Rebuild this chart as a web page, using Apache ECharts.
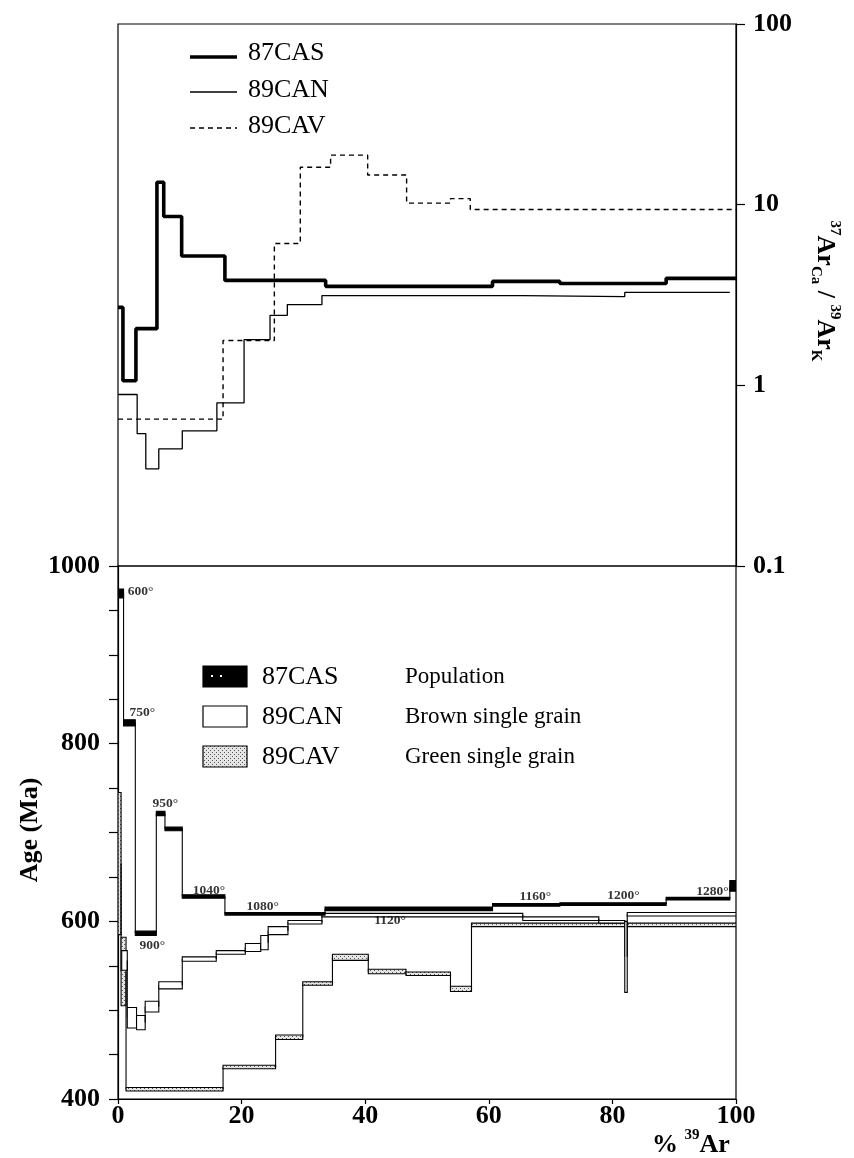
<!DOCTYPE html>
<html><head><meta charset="utf-8">
<script src="https://cdn.jsdelivr.net/npm/echarts@6/dist/echarts.min.js"></script>
<style>html,body{margin:0;padding:0;background:#fff}#c{width:854px;height:1158px}</style>
</head><body><div id="c"></div>
<script>
// ---------- Top panel: 37ArCa/39ArK step spectra (edges in % 39Ar) ----------
const casRatioEdges = [0, 0.8, 2.9, 6.3, 7.4, 10.3, 17.3, 33.6, 60.6, 71.5, 88.7, 100];
const casRatio      = [2.70, 1.06, 2.06, 13.3, 8.6, 5.2, 3.81, 3.53, 3.76, 3.66, 3.91];
const canRatioEdges = [0, 3.1, 4.5, 6.6, 10.4, 16.0, 20.4, 24.6, 27.4, 33.0, 65.5, 82.0, 99.0];
const canRatio      = [0.89, 0.54, 0.345, 0.445, 0.56, 0.80, 1.79, 2.44, 2.80, 3.14, 3.10, 3.27];
const cavRatioEdges = [0, 17.0, 25.3, 29.5, 34.4, 40.4, 46.7, 53.8, 57.0, 100];
const cavRatio      = [0.65, 1.77, 6.1, 16.1, 18.8, 14.6, 10.2, 10.8, 9.4];
const ratioTicks = ['0.1', '1', '10', '100'];

// ---------- Bottom panel: age spectra boxes (edges in % 39Ar, age range Ma) ----------
const casAgeEdges = [0, 0.9, 2.8, 6.2, 7.6, 10.4, 17.3, 33.5, 60.6, 71.5, 88.7, 99, 100];
const casAgeLow   = [964, 820, 584, 719, 702, 626, 607, 612, 617, 618, 624, 634];
const casAgeHigh  = [974, 827, 589, 724, 706, 630, 610, 616, 620, 621, 627, 646];
const canAgeEdges = [0.6, 1.5, 3.0, 4.4, 6.6, 10.4, 15.9, 20.6, 23.1, 24.3, 27.5, 33.0, 65.5, 77.8, 82.0, 82.4, 100];
const canAgeLow   = [545, 480, 478, 498, 524, 555, 563, 566, 568, 585, 597, 605, 601, 598, 520, 606];
const canAgeHigh  = [567, 503, 494, 510, 532, 560, 567, 575, 584, 594, 601, 609, 605, 601, 600, 610];
const cavAgeEdges = [0, 0.5, 1.3, 17.0, 25.5, 29.9, 34.7, 40.5, 46.6, 53.8, 57.2, 100];
const cavAgeLow   = [585, 505, 409, 434, 467, 528, 556, 541, 539, 521, 594];
const cavAgeHigh  = [745, 582, 413, 438, 472, 532, 563, 546, 543, 527, 598];

// step temperature labels (87CAS)
const tempLabels = ['600°', '750°', '900°', '950°', '1040°', '1080°', '1120°', '1160°', '1200°', '1280°'];
const tempX      = [1.5, 1.8, 3.4, 5.5, 12.0, 20.7, 41.4, 64.9, 79.1, 93.5];
const tempAge    = [971, 835, 573, 733, 635, 617, 601, 628, 629, 634];

const xTicks = [0, 20, 40, 60, 80, 100];
const ageTicks = [400, 600, 800, 1000];

const serif = '"Liberation Serif","Times New Roman",serif';

function stepPoints(edges, vals) {
  const pts = [];
  vals.forEach((v, i) => { pts.push([edges[i], v]); pts.push([edges[i + 1], v]); });
  return pts;
}
function boxData(edges, lo, hi) {
  return lo.map((l, i) => [edges[i], edges[i + 1], l, hi[i],
    i > 0 ? (lo[i - 1] + hi[i - 1]) / 2 : (l + hi[i]) / 2]);
}

// stipple pattern for 89CAV
const pat = document.createElement('canvas');
pat.width = 4; pat.height = 4;
(function () {
  const g = pat.getContext('2d');
  g.fillStyle = '#e6e6e6'; g.fillRect(0, 0, 4, 4);
  g.fillStyle = '#555'; g.fillRect(0, 0, 1, 1); g.fillRect(2, 2, 1, 1);
})();
const stipple = { image: pat, repeat: 'repeat' };

function boxRenderer(fill, lw) {
  return function (params, api) {
    const x0 = api.value(0), x1 = api.value(1), lo = api.value(2), hi = api.value(3), pm = api.value(4);
    const a = api.coord([x0, hi]);
    const b = api.coord([x1, lo]);
    const pa = api.coord([x0, pm]);
    const pb = api.coord([x0, (lo + hi) / 2]);
    return {
      type: 'group',
      children: [
        { type: 'line', shape: { x1: pa[0], y1: pa[1], x2: pb[0], y2: pb[1] },
          style: { stroke: '#000', lineWidth: 1.1 } },
        { type: 'rect', shape: { x: a[0], y: a[1], width: b[0] - a[0], height: Math.max(b[1] - a[1], 1.5) },
          style: { fill: fill, stroke: '#000', lineWidth: lw } }
      ]
    };
  };
}

const chart = echarts.init(document.getElementById('c'));

const G0 = { left: 118, top: 24, width: 618, height: 542 };
const G1 = { left: 118, top: 566, width: 618, height: 533 };

const option = {
  animation: false,
  backgroundColor: '#fff',
  grid: [
    Object.assign({ show: true, borderColor: '#000', borderWidth: 1.2, backgroundColor: 'transparent' }, G0),
    Object.assign({ show: true, borderColor: '#000', borderWidth: 1.2, backgroundColor: 'transparent' }, G1)
  ],
  xAxis: [
    { type: 'value', gridIndex: 0, min: 0, max: 100, show: false },
    { type: 'value', gridIndex: 1, min: 0, max: 100, interval: 20, position: 'bottom',
      axisLine: { show: true, onZero: false, lineStyle: { color: '#000', width: 1.2 } },
      axisTick: { show: true, inside: false, length: 5, lineStyle: { color: '#000', width: 1.2 } },
      axisLabel: { show: true, margin: 4, color: '#000', fontFamily: serif, fontWeight: 'bold', fontSize: 26,
        formatter: v => (xTicks.indexOf(v) >= 0 ? String(v) : '') },
      splitLine: { show: false } }
  ],
  yAxis: [
    { type: 'log', logBase: 10, gridIndex: 0, min: 0.1, max: 100, position: 'right',
      axisLine: { show: true, onZero: false, lineStyle: { color: '#000', width: 1.2 } },
      axisTick: { show: true, inside: false, length: 9, lineStyle: { color: '#000', width: 1.2 } },
      minorTick: { show: false },
      axisLabel: { show: true, margin: 17, color: '#000', fontFamily: serif, fontWeight: 'bold', fontSize: 26,
        formatter: v => { const s = String(+(+v).toPrecision(3)); return ratioTicks.indexOf(s) >= 0 ? s : ''; } },
      splitLine: { show: false } },
    { type: 'value', gridIndex: 1, min: 400, max: 1000, interval: 50, position: 'left',
      axisLine: { show: true, onZero: false, lineStyle: { color: '#000', width: 1.2 } },
      axisTick: { show: true, inside: false, length: 9, lineStyle: { color: '#000', width: 1.2 } },
      axisLabel: { show: true, margin: 18, color: '#000', fontFamily: serif, fontWeight: 'bold', fontSize: 26,
        formatter: v => (ageTicks.indexOf(v) >= 0 ? String(v) : '') },
      splitLine: { show: false } }
  ],
  series: [
    { name: '89CAV', type: 'line', xAxisIndex: 0, yAxisIndex: 0, data: stepPoints(cavRatioEdges, cavRatio),
      showSymbol: false, symbol: 'none', lineStyle: { color: '#000', width: 1.4, type: [5, 4] }, z: 3 },
    { name: '89CAN', type: 'line', xAxisIndex: 0, yAxisIndex: 0, data: stepPoints(canRatioEdges, canRatio),
      showSymbol: false, symbol: 'none', lineStyle: { color: '#000', width: 1.3 }, z: 4 },
    { name: '87CAS', type: 'line', xAxisIndex: 0, yAxisIndex: 0, data: stepPoints(casRatioEdges, casRatio),
      showSymbol: false, symbol: 'none', lineStyle: { color: '#000', width: 3.6 }, z: 5 },

    { name: '89CAV age', type: 'custom', xAxisIndex: 1, yAxisIndex: 1, clip: true,
      data: boxData(cavAgeEdges, cavAgeLow, cavAgeHigh), encode: { x: [0, 1], y: [2, 3] },
      renderItem: boxRenderer(stipple, 1.1), z: 3 },
    { name: '89CAN age', type: 'custom', xAxisIndex: 1, yAxisIndex: 1, clip: true,
      data: boxData(canAgeEdges, canAgeLow, canAgeHigh), encode: { x: [0, 1], y: [2, 3] },
      renderItem: boxRenderer('#fff', 1.1), z: 4 },
    { name: '87CAS age', type: 'custom', xAxisIndex: 1, yAxisIndex: 1, clip: true,
      data: boxData(casAgeEdges, casAgeLow, casAgeHigh), encode: { x: [0, 1], y: [2, 3] },
      renderItem: boxRenderer('#000', 1.1), z: 5 },

    { name: 'temps', type: 'scatter', xAxisIndex: 1, yAxisIndex: 1, symbolSize: 1,
      itemStyle: { color: 'rgba(0,0,0,0)' }, silent: true, z: 6,
      data: tempX.map((x, i) => ({ value: [x, tempAge[i]], name: tempLabels[i] })),
      label: { show: true, position: 'right', distance: 0, formatter: '{b}', color: '#000',
        fontFamily: serif, fontWeight: 'bold', fontSize: 13.5 } }
  ],
  graphic: [
    // top legend
    { type: 'line', shape: { x1: 190, y1: 57, x2: 237, y2: 57 }, style: { stroke: '#000', lineWidth: 3.6 } },
    { type: 'line', shape: { x1: 190, y1: 92, x2: 237, y2: 92 }, style: { stroke: '#000', lineWidth: 1.3 } },
    { type: 'line', shape: { x1: 190, y1: 128, x2: 237, y2: 128 }, style: { stroke: '#000', lineWidth: 1.4, lineDash: [5, 4] } },
    { type: 'text', x: 248, y: 53, style: { text: '87CAS', font: '26px ' + serif, fill: '#000', textVerticalAlign: 'middle' } },
    { type: 'text', x: 248, y: 90, style: { text: '89CAN', font: '26px ' + serif, fill: '#000', textVerticalAlign: 'middle' } },
    { type: 'text', x: 248, y: 126, style: { text: '89CAV', font: '26px ' + serif, fill: '#000', textVerticalAlign: 'middle' } },
    // bottom legend
    { type: 'rect', shape: { x: 203, y: 666, width: 44, height: 21 }, style: { fill: '#000', stroke: '#000', lineWidth: 1.2 } },
    { type: 'rect', shape: { x: 211, y: 675, width: 2, height: 2 }, style: { fill: '#fff' } },
    { type: 'rect', shape: { x: 220, y: 675, width: 2, height: 2 }, style: { fill: '#fff' } },
    { type: 'rect', shape: { x: 203, y: 706, width: 44, height: 21 }, style: { fill: '#fff', stroke: '#000', lineWidth: 1.2 } },
    { type: 'rect', shape: { x: 203, y: 746, width: 44, height: 21 }, style: { fill: stipple, stroke: '#000', lineWidth: 1.2 } },
    { type: 'text', x: 262, y: 677, style: { text: '87CAS', font: '26px ' + serif, fill: '#000', textVerticalAlign: 'middle' } },
    { type: 'text', x: 262, y: 717, style: { text: '89CAN', font: '26px ' + serif, fill: '#000', textVerticalAlign: 'middle' } },
    { type: 'text', x: 262, y: 757, style: { text: '89CAV', font: '26px ' + serif, fill: '#000', textVerticalAlign: 'middle' } },
    { type: 'text', x: 405, y: 677, style: { text: 'Population', font: '23px ' + serif, fill: '#000', textVerticalAlign: 'middle' } },
    { type: 'text', x: 405, y: 717, style: { text: 'Brown single grain', font: '23px ' + serif, fill: '#000', textVerticalAlign: 'middle' } },
    { type: 'text', x: 405, y: 757, style: { text: 'Green single grain', font: '23px ' + serif, fill: '#000', textVerticalAlign: 'middle' } },
    // axis names
    { type: 'text', x: 30, y: 830, rotation: Math.PI / 2,
      style: { text: 'Age (Ma)', font: 'bold 26px ' + serif, fill: '#000', textAlign: 'center', textVerticalAlign: 'middle' } },
    { type: 'text', x: 825, y: 291, rotation: -Math.PI / 2,
      style: { text: '{sup|37}{m|Ar}{sub|Ca}{m| / }{sup|39}{m|Ar}{sub|K}', textAlign: 'center', textVerticalAlign: 'middle',
        rich: {
          m: { font: 'bold 26px ' + serif, fill: '#000', lineHeight: 34, verticalAlign: 'middle' },
          sup: { font: 'bold 15px ' + serif, fill: '#000', lineHeight: 34, verticalAlign: 'top' },
          sub: { font: 'bold 15px ' + serif, fill: '#000', lineHeight: 34, verticalAlign: 'bottom' }
        } } },
    { type: 'text', x: 652, y: 1143,
      style: { text: '{m|% }{sup|39}{m|Ar}', textVerticalAlign: 'middle',
        rich: {
          m: { font: 'bold 26px ' + serif, fill: '#000', lineHeight: 30, verticalAlign: 'bottom' },
          sup: { font: 'bold 15px ' + serif, fill: '#000', lineHeight: 30, verticalAlign: 'top' }
        } } }
  ]
};
chart.setOption(option);
</script></body></html>
